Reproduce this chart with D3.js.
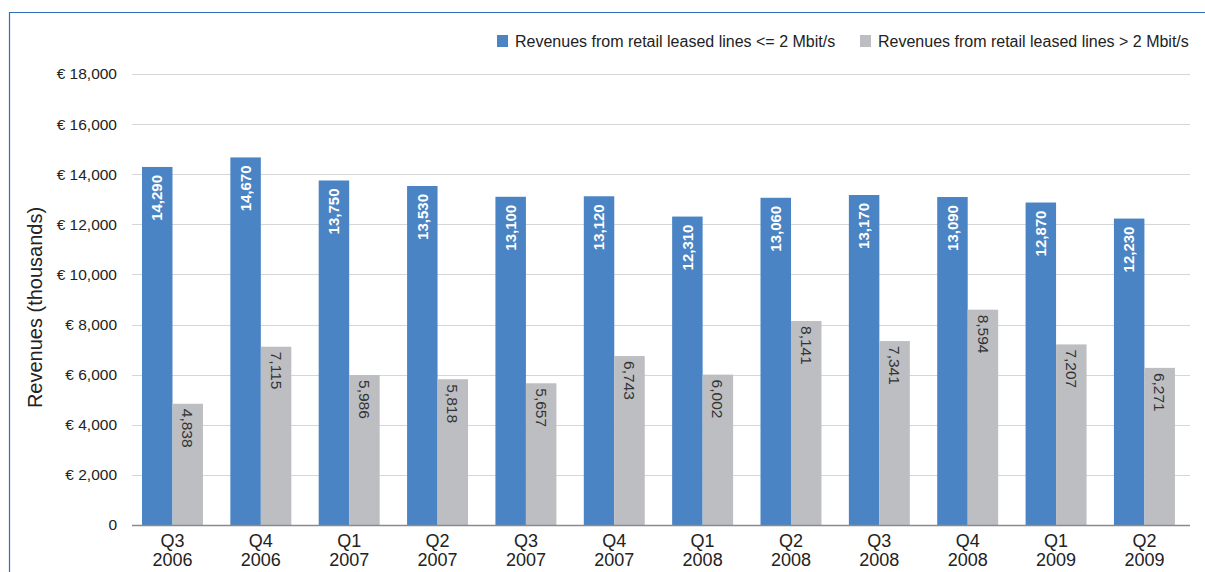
<!DOCTYPE html>
<html>
<head>
<meta charset="utf-8">
<script src="https://cdn.jsdelivr.net/npm/d3@7"></script>
<style>
  html, body { margin: 0; padding: 0; background: #fff; }
  svg { display: block; font-family: "Liberation Sans", Arial, sans-serif; }
</style>
</head>
<body>
<svg id="chart" width="1205" height="572"></svg>
<script>
// Quarterly revenues from retail leased lines (thousands of euro)
const quarters = ["Q3", "Q4", "Q1", "Q2", "Q3", "Q4", "Q1", "Q2", "Q3", "Q4", "Q1", "Q2"];
const years = ["2006", "2006", "2007", "2007", "2007", "2007", "2008", "2008", "2008", "2008", "2009", "2009"];
const lowSpeed = [14290, 14670, 13750, 13530, 13100, 13120, 12310, 13060, 13170, 13090, 12870, 12230];
const highSpeed = [4838, 7115, 5986, 5818, 5657, 6743, 6002, 8141, 7341, 8594, 7207, 6271];
const yTicks = [0, 2000, 4000, 6000, 8000, 10000, 12000, 14000, 16000, 18000];
const seriesNames = ["Revenues from retail leased lines <= 2 Mbit/s", "Revenues from retail leased lines > 2 Mbit/s"];
const colors = ["#4a84c4", "#bdbec2"];

const svg = d3.select("#chart");
const plot = { left: 132, right: 1190, top: 74, bottom: 525 };

const periods = quarters.map((q, i) => q + " " + years[i]);

const x = d3.scaleBand()
  .domain(periods)
  .range([128.3, 1188.6])
  .paddingInner(0.31)
  .paddingOuter(0.155);

const sub = d3.scaleBand()
  .domain([0, 1])
  .range([0, x.bandwidth()]);

const y = d3.scaleLinear()
  .domain([0, 18000])
  .range([plot.bottom, plot.top]);

// outer frame lines
svg.append("line").attr("x1", 9.5).attr("x2", 9.5).attr("y1", 12).attr("y2", 572)
  .attr("stroke", "#2f6db5").attr("stroke-width", 1.2);
svg.append("line").attr("x1", 9).attr("x2", 1205).attr("y1", 12.5).attr("y2", 12.5)
  .attr("stroke", "#2f6db5").attr("stroke-width", 1.2);

// gridlines
svg.append("g").selectAll("line")
  .data(yTicks.filter(d => d > 0))
  .join("line")
  .attr("x1", plot.left).attr("x2", plot.right)
  .attr("y1", d => Math.round(y(d)) + 0.5).attr("y2", d => Math.round(y(d)) + 0.5)
  .attr("stroke", "#d6d6d6").attr("stroke-width", 1);

// y axis labels
const fmt = d3.format(",");
svg.append("g").selectAll("text")
  .data(yTicks)
  .join("text")
  .attr("x", 117)
  .attr("y", d => y(d))
  .attr("dy", "0.35em")
  .attr("text-anchor", "end")
  .attr("font-size", 15.5)
  .attr("fill", "#222")
  .text(d => d === 0 ? "0" : "€ " + fmt(d));

// y axis title
svg.append("text")
  .attr("transform", `translate(35,${(plot.top + plot.bottom) / 2 + 8}) rotate(-90)`)
  .attr("text-anchor", "middle")
  .attr("dy", "0.35em")
  .attr("font-size", 20)
  .attr("fill", "#222")
  .text("Revenues (thousands)");

const groups = svg.append("g").selectAll("g")
  .data(periods)
  .join("g")
  .attr("transform", d => `translate(${x(d)},0)`);

// low-speed bars
groups.append("rect")
  .attr("x", sub(0))
  .attr("width", sub.bandwidth())
  .attr("y", (d, i) => y(lowSpeed[i]))
  .attr("height", (d, i) => y(0) - y(lowSpeed[i]))
  .attr("fill", colors[0]);

// high-speed bars
groups.append("rect")
  .attr("x", sub(1))
  .attr("width", sub.bandwidth())
  .attr("y", (d, i) => y(highSpeed[i]))
  .attr("height", (d, i) => y(0) - y(highSpeed[i]))
  .attr("fill", colors[1]);

// value labels inside bars
groups.append("text")
  .attr("transform", (d, i) => `translate(${sub(0) + sub.bandwidth() / 2},${y(lowSpeed[i]) + 8}) rotate(-90)`)
  .attr("text-anchor", "end")
  .attr("dy", "0.35em")
  .attr("font-size", 15)
  .attr("font-weight", "bold")
  .attr("fill", "#fff")
  .text((d, i) => fmt(lowSpeed[i]));

groups.append("text")
  .attr("transform", (d, i) => `translate(${sub(1) + sub.bandwidth() / 2},${y(highSpeed[i]) + 5}) rotate(90)`)
  .attr("text-anchor", "start")
  .attr("dy", "0.35em")
  .attr("font-size", 15.5)
  .attr("fill", "#333")
  .text((d, i) => fmt(highSpeed[i]));

// baseline
svg.append("line")
  .attr("x1", plot.left).attr("x2", plot.right)
  .attr("y1", y(0) + 0.5).attr("y2", y(0) + 0.5)
  .attr("stroke", "#8a8a8a").attr("stroke-width", 1.5);

// category labels
const xl = groups.append("text")
  .attr("text-anchor", "middle")
  .attr("font-size", 18)
  .attr("fill", "#222");
xl.append("tspan")
  .attr("x", x.bandwidth() / 2)
  .attr("y", 547)
  .text((d, i) => quarters[i]);
xl.append("tspan")
  .attr("x", x.bandwidth() / 2)
  .attr("y", 566)
  .text((d, i) => years[i]);

// legend
const legendX = [497, 860];
const legend = svg.append("g").selectAll("g")
  .data(seriesNames)
  .join("g")
  .attr("transform", (d, i) => `translate(${legendX[i]},35)`);
legend.append("rect")
  .attr("width", 11).attr("height", 12)
  .attr("fill", (d, i) => colors[i]);
legend.append("text")
  .attr("x", 18)
  .attr("y", 6)
  .attr("dy", "0.35em")
  .attr("font-size", 16)
  .attr("fill", "#222")
  .text(d => d);
</script>
</body>
</html>
